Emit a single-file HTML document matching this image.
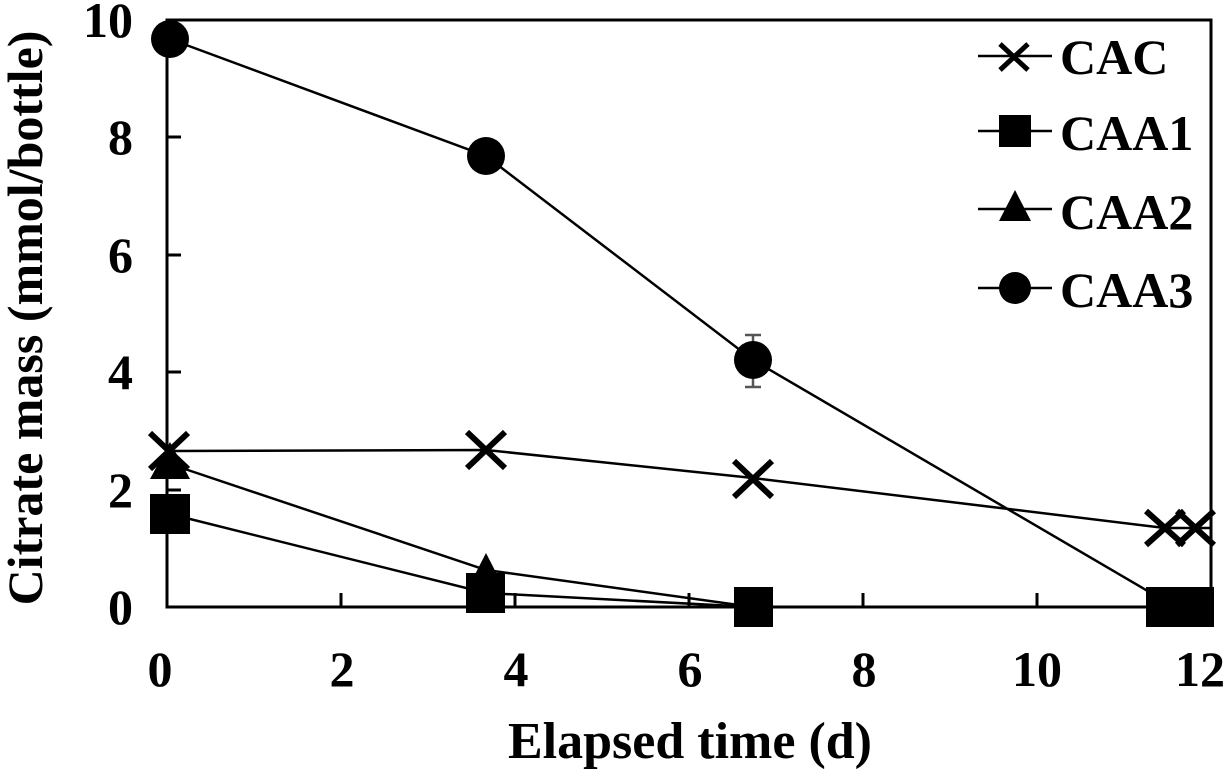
<!DOCTYPE html>
<html><head><style>
html,body{margin:0;padding:0;background:#fff;}
svg{display:block;font-family:"Liberation Serif",serif;font-weight:bold;}
</style></head><body>
<svg width="1228" height="769" viewBox="0 0 1228 769" xmlns="http://www.w3.org/2000/svg">
<rect x="167" y="20" width="1044" height="587" fill="none" stroke="#000" stroke-width="3"/>
<g stroke="#000" stroke-width="3">
<line x1="341" y1="607" x2="341" y2="593"/><line x1="515" y1="607" x2="515" y2="593"/>
<line x1="689" y1="607" x2="689" y2="593"/><line x1="863" y1="607" x2="863" y2="593"/>
<line x1="1037" y1="607" x2="1037" y2="593"/>
<line x1="167" y1="490" x2="181" y2="490"/><line x1="167" y1="372" x2="181" y2="372"/>
<line x1="167" y1="255" x2="181" y2="255"/><line x1="167" y1="137" x2="181" y2="137"/>
</g>
<g font-size="50" text-anchor="end">
<text x="133" y="624">0</text><text x="133" y="507">2</text><text x="133" y="389">4</text>
<text x="133" y="272">6</text><text x="133" y="154">8</text><text x="133" y="37">10</text>
</g>
<g font-size="50" text-anchor="middle">
<text x="160" y="686">0</text><text x="342" y="686">2</text><text x="516" y="686">4</text>
<text x="690" y="686">6</text><text x="864" y="686">8</text><text x="1037" y="686">10</text><text x="1200" y="686">12</text>
</g>
<text x="690" y="758" font-size="52" text-anchor="middle">Elapsed time (d)</text>
<text transform="translate(42,318) rotate(-90)" font-size="50" text-anchor="middle">Citrate mass (mmol/bottle)</text>
<g fill="none" stroke="#000" stroke-width="2.5">
<polyline points="170,39 486,156 753,360 1175,607"/>
<polyline points="170,451 486,450 753,478 1165,528 1210,528"/>
<polyline points="170,464 486,570 753,607 1170,607"/>
<polyline points="170,514 486,593 753,607 1180,607"/>
</g>
<g stroke="#555" stroke-width="2.5"><line x1="753" y1="335" x2="753" y2="388"/><line x1="745" y1="335" x2="761" y2="335"/><line x1="745" y1="387" x2="761" y2="387"/></g>
<g fill="#000">
<circle cx="170" cy="39" r="19"/><circle cx="486" cy="156" r="19"/><circle cx="753" cy="360" r="19"/>
<rect x="150" y="494" width="40" height="40"/><rect x="466" y="573" width="39" height="40"/>
<rect x="734" y="587" width="39" height="40"/><rect x="1146" y="587" width="68" height="40"/>
<polygon points="170,442 190,479 150,479"/><polygon points="486,553 505,590 467,590"/>
</g>
<g stroke="#000" stroke-width="6">
<path d="M150,433 L188,469 M188,433 L150,469"/>
<path d="M467,432 L505,468 M505,432 L467,468"/>
<path d="M734,461 L772,497 M772,461 L734,497"/>
<path d="M1146,511 L1184,545 M1184,511 L1146,545"/>
<path d="M1177,511 L1214,545 M1214,511 L1177,545"/>
</g>
<g stroke="#000" stroke-width="2.5">
<line x1="978" y1="56" x2="1052" y2="56"/><line x1="978" y1="131" x2="1052" y2="131"/>
<line x1="978" y1="209" x2="1052" y2="209"/><line x1="978" y1="288" x2="1052" y2="288"/>
</g>
<path d="M1000,44 L1028,70 M1028,44 L1000,70" stroke="#000" stroke-width="5"/>
<rect x="999" y="115" width="32" height="32" fill="#000"/>
<polygon points="1015,190 1031,221 999,221" fill="#000"/>
<circle cx="1015" cy="288" r="16" fill="#000"/>
<g font-size="50">
<text x="1060" y="74">CAC</text><text x="1060" y="150">CAA1</text>
<text x="1060" y="229">CAA2</text><text x="1060" y="307">CAA3</text>
</g>
</svg>
</body></html>
